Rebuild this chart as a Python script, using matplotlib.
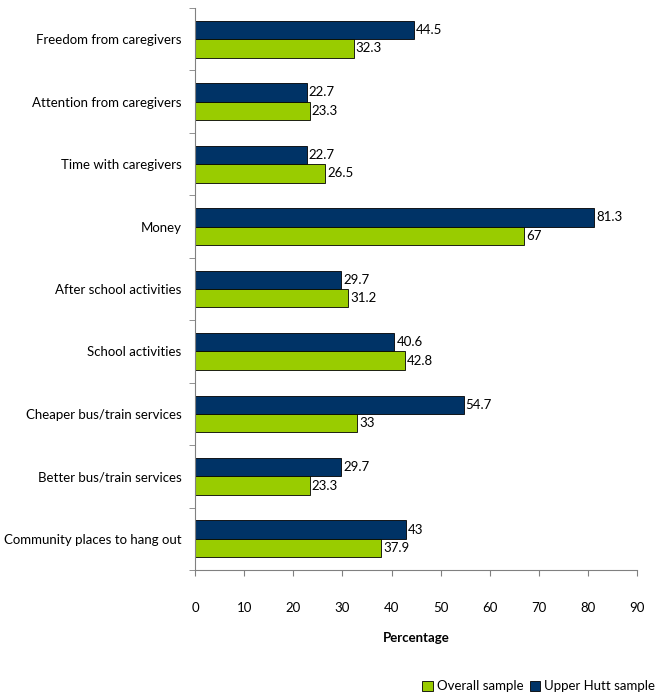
import matplotlib.pyplot as plt
import numpy as np
from matplotlib.patches import Patch

plt.rcParams["font.family"] = ["Lato", "DejaVu Sans"]

categories = [
    "Freedom from caregivers",
    "Attention from caregivers",
    "Time with caregivers",
    "Money",
    "After school activities",
    "School activities",
    "Cheaper bus/train services",
    "Better bus/train services",
    "Community places to hang out",
]
upper_hutt = [44.5, 22.7, 22.7, 81.3, 29.7, 40.6, 54.7, 29.7, 43]
overall = [32.3, 23.3, 26.5, 67, 31.2, 42.8, 33, 23.3, 37.9]

navy = "#003366"
green = "#99cc00"

fig = plt.figure(figsize=(6.62, 6.99), dpi=100)
ax = fig.add_axes((0.295, 0.1845, 0.667, 0.804))

y = np.arange(len(categories))
h = 0.295
ax.barh(y - h / 2, upper_hutt, height=h, color=navy, edgecolor="black", linewidth=0.6)
ax.barh(y + h / 2, overall, height=h, color=green, edgecolor="black", linewidth=0.6)

for i in range(len(categories)):
    ax.text(upper_hutt[i] + 0.4, y[i] - h / 2, f"{upper_hutt[i]:g}", va="center", ha="left", fontsize=9.5)
    ax.text(overall[i] + 0.4, y[i] + h / 2, f"{overall[i]:g}", va="center", ha="left", fontsize=9.5)

ax.set_xlim(0, 90)
ax.set_ylim(len(categories) - 0.5, -0.5)
ax.set_xticks(range(0, 91, 10))
ax.set_yticks(y)
ax.set_yticklabels(categories, fontsize=9.5)
ax.set_yticks(np.arange(-0.5, len(categories), 1), minor=True)
ax.tick_params(axis="y", which="major", length=0, pad=10)
ax.tick_params(axis="y", which="minor", length=4, direction="out", color="#808080")
ax.tick_params(axis="x", length=4, direction="out", pad=19, labelsize=9.5, color="#808080")
for side in ("top", "right"):
    ax.spines[side].set_visible(False)
for side in ("left", "bottom"):
    ax.spines[side].set_color("#808080")
ax.set_xlabel("Percentage", fontsize=9.5, fontweight="bold", labelpad=13)

handles = [
    Patch(facecolor=green, edgecolor="black", linewidth=0.6),
    Patch(facecolor=navy, edgecolor="black", linewidth=0.6),
]
fig.legend(handles, ["Overall sample", "Upper Hutt sample"], loc="lower right",
           bbox_to_anchor=(1.0, 0.0), ncol=2, frameon=False, fontsize=9.5,
           handlelength=0.8, handleheight=0.8, handletextpad=0.3, columnspacing=0.5,
           borderaxespad=0.1)

fig.savefig("out.png", dpi=100)
